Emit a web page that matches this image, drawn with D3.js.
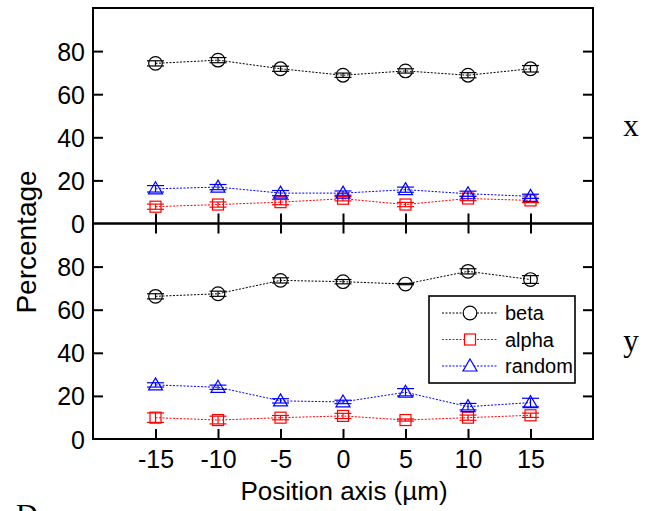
<!DOCTYPE html>
<html>
<head>
<meta charset="utf-8">
<script src="https://cdn.jsdelivr.net/npm/d3@7"></script>
<style>
  body { margin: 0; background: #fff; }
  svg { display: block; }
  text { font-family: "Liberation Sans", Arial, sans-serif; fill: #000; }
  .serif { font-family: "Liberation Serif", "Times New Roman", serif; }
</style>
</head>
<body>
<div id="chart"></div>
<script>
// positions along the axis (µm)
const positions = [-15, -10, -5, 0, 5, 10, 15]
const yTicks = [0, 20, 40, 60, 80]

// panel x
const xBeta = [74.3, 75.8, 71.8, 68.8, 70.8, 68.8, 71.8]
const xBetaErr = [1.2, 1.2, 1.2, 1.0, 1.0, 1.2, 1.5]
const xAlpha = [7.8, 8.8, 9.9, 11.5, 8.8, 11.6, 10.7]
const xAlphaErr = [1.2, 1.2, 1.2, 1.0, 1.0, 1.0, 1.0]
const xRandom = [16.1, 16.9, 14.1, 14.1, 15.7, 13.8, 12.6]
const xRandomErr = [1.5, 1.2, 1.2, 1.0, 1.2, 1.2, 1.0]

// panel y
const yBeta = [66.2, 67.4, 73.6, 73.0, 71.9, 77.8, 74.0]
const yBetaErr = [1.2, 1.2, 1.2, 1.0, 0.3, 1.2, 1.8]
const yAlpha = [9.9, 8.8, 9.9, 10.7, 8.8, 9.9, 11.0]
const yAlphaErr = [2.2, 1.8, 1.0, 1.2, 0.5, 1.2, 1.0]
const yRandom = [25.1, 24.0, 17.7, 17.2, 21.7, 15.0, 16.9]
const yRandomErr = [1.0, 1.0, 1.0, 0.8, 1.7, 1.5, 2.0]

const seriesNames = ["beta", "alpha", "random"]
const seriesColors = ["#000000", "#ff0000", "#0000ff"]
const seriesShapes = ["circle", "square", "triangle"]

const width = 657
const height = 511
const left = 93, right = 593
const panels = [
  { top: 8, bottom: 223.5, label: "x", series: [[xBeta, xBetaErr], [xAlpha, xAlphaErr], [xRandom, xRandomErr]] },
  { top: 223.5, bottom: 439, label: "y", series: [[yBeta, yBetaErr], [yAlpha, yAlphaErr], [yRandom, yRandomErr]] }
]

const svg = d3.select("#chart")
  .append("svg")
    .attr("width", width)
    .attr("height", height)

const x = d3.scaleLinear().domain([-20, 20]).range([left, right])

function marker(sel, shape, color) {
  if (shape == "circle") {
    sel.append("circle").attr("r", 6.8)
  } else if (shape == "square") {
    sel.append("rect").attr("x", -5.5).attr("y", -5.5).attr("width", 11).attr("height", 11)
  } else {
    sel.append("path").attr("d", "M0,-7L7,5L-7,5Z")
  }
  sel.selectAll("*")
    .attr("fill", "none")
    .attr("stroke", color)
    .attr("stroke-width", 1.2)
}

panels.forEach((p, pi) => {
  const y = d3.scaleLinear().domain([0, 100]).range([p.bottom, p.top])
  const g = svg.append("g")

  // series: dotted line, error bars, markers
  p.series.forEach(([vals, errs], si) => {
    const color = seriesColors[si]
    const pts = positions.map((pos, i) => ({ pos, v: vals[i], e: errs[i] }))

    g.append("path")
      .datum(pts)
      .attr("fill", "none")
      .attr("stroke", color)
      .attr("stroke-width", 1)
      .attr("stroke-dasharray", "2,1.5")
      .attr("d", d3.line().x(d => x(d.pos)).y(d => y(d.v)))

    const pg = g.selectAll(null)
      .data(pts)
      .join("g")
        .attr("transform", d => `translate(${x(d.pos)},${y(d.v)})`)

    pg.append("line")
      .attr("y1", d => y(d.v - d.e) - y(d.v))
      .attr("y2", d => y(d.v + d.e) - y(d.v))
      .attr("stroke", color).attr("stroke-width", 1.2)
    pg.append("line")
      .attr("x1", -8.5).attr("x2", 8.5)
      .attr("y1", d => y(d.v - d.e) - y(d.v))
      .attr("y2", d => y(d.v - d.e) - y(d.v))
      .attr("stroke", color).attr("stroke-width", 1.2)
    pg.append("line")
      .attr("x1", -8.5).attr("x2", 8.5)
      .attr("y1", d => y(d.v + d.e) - y(d.v))
      .attr("y2", d => y(d.v + d.e) - y(d.v))
      .attr("stroke", color).attr("stroke-width", 1.2)
    pg.each(function() { marker(d3.select(this), seriesShapes[si], color) })
  })

  // y axes, ticks inward on both sides
  const yl = g.append("g")
    .attr("transform", `translate(${left},0)`)
    .call(d3.axisLeft(y).tickValues(yTicks).tickSizeInner(-10).tickSizeOuter(0).tickPadding(8))
  yl.select(".domain").remove()
  yl.selectAll(".tick line").attr("stroke-width", 2)
  yl.selectAll(".tick text")
    .style("font-family", "Liberation Sans, Arial, sans-serif")
    .style("font-size", "25px")
    .attr("dy", "0.36em")
  yl.selectAll(".tick").filter(d => d == 0).select("line").remove()

  const yr = g.append("g")
    .attr("transform", `translate(${right},0)`)
    .call(d3.axisRight(y).tickValues(yTicks.filter(t => t > 0)).tickSizeInner(-10).tickSizeOuter(0).tickFormat(""))
  yr.select(".domain").remove()
  yr.selectAll(".tick line").attr("stroke-width", 2)

  // x ticks inward on bottom edge
  const xb = g.append("g")
    .attr("transform", `translate(0,${p.bottom})`)
    .call(d3.axisBottom(x).tickValues(positions).tickSizeInner(-10).tickSizeOuter(0).tickPadding(11)
      .tickFormat(pi == 1 ? (d => String(d)) : ""))
  xb.select(".domain").remove()
  xb.selectAll(".tick line").attr("stroke-width", 2)
  xb.selectAll(".tick text")
    .style("font-family", "Liberation Sans, Arial, sans-serif")
    .style("font-size", "25px")

  // second panel: ticks on its top edge too
  if (pi == 1) {
    const xt = g.append("g")
      .attr("transform", `translate(0,${p.top})`)
      .call(d3.axisTop(x).tickValues(positions).tickSizeInner(-10).tickSizeOuter(0).tickFormat(""))
    xt.select(".domain").remove()
    xt.selectAll(".tick line").attr("stroke-width", 2)
  }

  // frame
  g.append("rect")
    .attr("x", left).attr("y", p.top)
    .attr("width", right - left).attr("height", p.bottom - p.top)
    .attr("fill", "none").attr("stroke", "#000").attr("stroke-width", 2)

  // panel label on the right
  svg.append("text")
    .attr("class", "serif")
    .attr("x", 631).attr("y", (p.top + p.bottom) / 2 + 20)
    .attr("text-anchor", "middle")
    .style("font-size", "31px")
    .text(p.label)
})

// legend inside the lower panel
const lg = svg.append("g")
lg.append("rect")
  .attr("x", 429).attr("y", 296).attr("width", 146).attr("height", 87)
  .attr("fill", "#fff").attr("stroke", "#000").attr("stroke-width", 1.6)
seriesNames.forEach((name, i) => {
  const ly = 313 + i * 26.5
  lg.append("line")
    .attr("x1", 442).attr("x2", 498).attr("y1", ly).attr("y2", ly)
    .attr("stroke", seriesColors[i]).attr("stroke-width", 1)
    .attr("stroke-dasharray", "2,1.5")
  const m = lg.append("g").attr("transform", `translate(470,${ly})`)
  marker(m, seriesShapes[i], seriesColors[i])
  m.selectAll("*").attr("fill", "#fff")
  lg.append("text")
    .attr("x", 505).attr("y", ly).attr("dy", "0.35em")
    .style("font-size", "20px")
    .text(name)
})

// axis titles
svg.append("text")
  .attr("transform", "translate(36,242) rotate(-90)")
  .attr("text-anchor", "middle")
  .style("font-size", "28px")
  .text("Percentage")

svg.append("text")
  .attr("x", 344).attr("y", 500)
  .attr("text-anchor", "middle")
  .style("font-size", "26px")
  .text("Position axis (µm)")

// panel letter, cut off at the bottom edge as in the source figure
svg.append("text")
  .attr("class", "serif")
  .attr("x", 16).attr("y", 524)
  .style("font-size", "30px")
  .text("D")
</script>
</body>
</html>
